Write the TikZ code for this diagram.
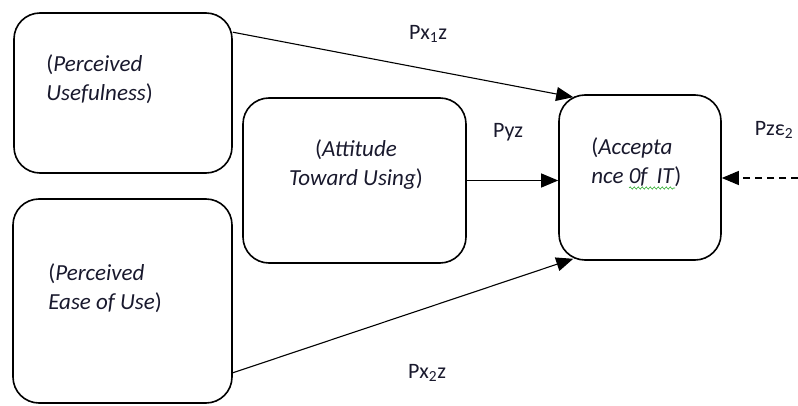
\documentclass[tikz,border=0pt]{standalone}
\usepackage{fontspec}
\setmainfont{Carlito}
\usetikzlibrary{positioning, calc, arrows.meta, decorations.pathmorphing}

\definecolor{inkdark}{RGB}{25,25,45}
\definecolor{spellgreen}{RGB}{40,170,40}

\begin{document}
\begin{tikzpicture}[
      x=1pt, y=1pt,
      box/.style={draw, line width=1.6pt, rounded corners=26pt, inner sep=0pt},
      boxtext/.style={inner sep=0pt, text=inkdark, font=\fontsize{23}{28.5}\selectfont},
      path label/.style={inner sep=0pt, text=inkdark, font=\fontsize{22}{26}\selectfont},
      path arrow/.style={line width=1.1pt, -{Triangle[length=17pt,width=14pt]}},
      error arrow/.style={path arrow, dash pattern=on 7pt off 5pt}
    ]
    \useasboundingbox (0,0) rectangle (798,405);
    % constructs
    \node[box, minimum width=218pt, minimum height=160pt] (pu) at (123,312) {};
    \node[box, minimum width=219pt, minimum height=204pt] (peou) at (122.5,104) {};
    \node[box, minimum width=223pt, minimum height=165pt] (atu) at (354.5,224.5) {};
    \node[box, minimum width=162pt, minimum height=165pt] (acc) at (640,227.5) {};
    % texts in the boxes (base = last line)
    \node[boxtext, anchor=base west, align=left] (putxt) at ($(pu.north west)+(33,-88)$)
      {(\textit{Perceived}\\\textit{Usefulness})};
    \node[boxtext, anchor=base west, align=left] (peoutxt) at ($(peou.north west)+(36,-111)$)
      {(\textit{Perceived}\\\textit{Ease of Use})};
    \node[boxtext, anchor=base, align=center] (atutxt) at ($(atu.north)+(1.5,-88)$)
      {(\textit{Attitude}\\\textit{Toward Using})};
    \node[boxtext, anchor=base west, align=left] (acctxt) at ($(acc.north west)+(33,-89)$)
      {(\textit{Accepta}\\\textit{nce 0f~\,IT})};
    \draw[spellgreen, line width=0.6pt, decoration={snake, amplitude=1.1pt, segment length=4pt}, decorate]
      (629,217) -- (675,217);
    % paths
    \coordinate (eps) at (798,227);
    \draw[path arrow] ($(pu.north east)+(0,-20)$) -- ($(acc.north west)+(15,-3)$);
    \draw[path arrow] (atu.east) -- (atu.east -| acc.west);
    \draw[path arrow] ($(peou.south east)+(0,31)$) -- ($(acc.south west)+(15,2)$);
    \draw[error arrow] (eps) -- (eps -| acc.east);
    % path coefficients
    \node[path label] (pxone) at (428,371) {Px\textsubscript{1}z};
    \node[path label] (pyz) at (508,273) {Pyz};
    \node[path label] (pze) at (774,275) {Pzε\textsubscript{2}};
    \node[path label] (pxtwo) at (427,32) {Px\textsubscript{2}z};
\end{tikzpicture}
\end{document}
